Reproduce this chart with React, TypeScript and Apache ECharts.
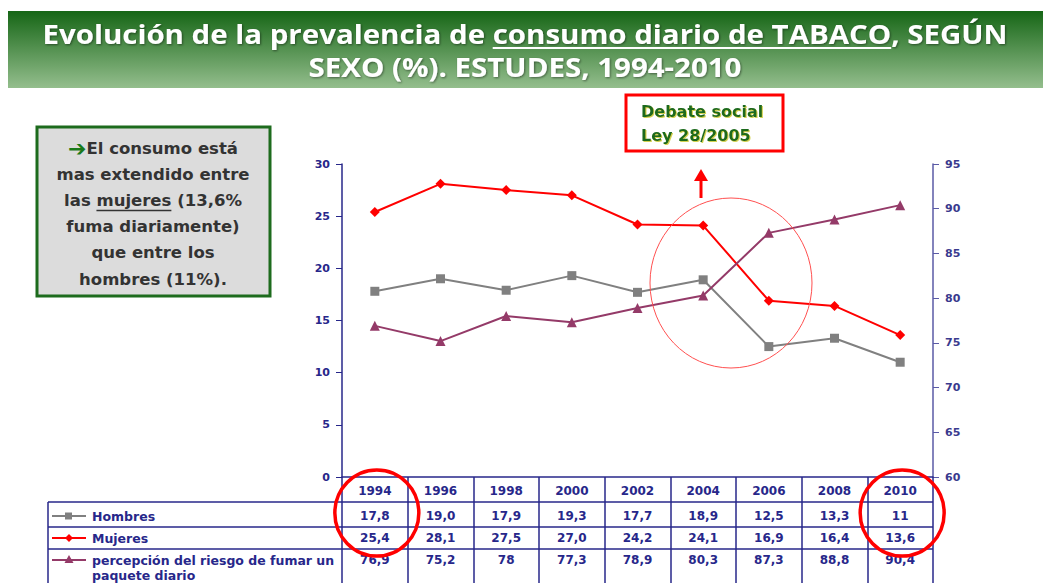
import React, { useEffect, useRef } from 'react';
import * as echarts from 'echarts';

const years = ['1994', '1996', '1998', '2000', '2002', '2004', '2006', '2008', '2010'];
const hombresText = ['17,8', '19,0', '17,9', '19,3', '17,7', '18,9', '12,5', '13,3', '11'];
const mujeresText = ['25,4', '28,1', '27,5', '27,0', '24,2', '24,1', '16,9', '16,4', '13,6'];
const riesgoText = ['76,9', '75,2', '78', '77,3', '78,9', '80,3', '87,3', '88,8', '90,4'];

const toNum = (s: string) => parseFloat(s.replace(',', '.'));
const hombres = hombresText.map(toNum);
const mujeres = mujeresText.map(toNum);
const riesgo = riesgoText.map(toNum);

const titleLine1 = 'Evolución de la prevalencia de consumo diario de TABACO, SEGÚN';
const titleUnderlined = 'consumo diario de TABACO';
const titleLine2 = 'SEXO (%). ESTUDES, 1994-2010';

const NAVY = '#27278a';
const GRAY = '#808080';
const RED = '#ff0000';
const PURPLE = '#943a68';
const TFONT = 'DejaVu Sans';

const W = 1048;
const H = 583;
const GRID = { left: 342, right: W - 933, top: 164, bottom: H - 477 };

let measureCtx: CanvasRenderingContext2D | null = null;
function tw(text: string, font: string) {
  if (!measureCtx) measureCtx = document.createElement('canvas').getContext('2d');
  measureCtx!.font = font;
  return measureCtx!.measureText(text).width;
}

export default function App() {
  const ref = useRef<HTMLDivElement>(null);
  useEffect(() => {
    const chart = echarts.init(ref.current!, null, { renderer: 'svg' });
    const axisLabelBase = { fontFamily: TFONT, fontWeight: 'bold' as const, fontSize: 11, color: NAVY };
    chart.setOption({
      animation: false,
      grid: GRID,
      xAxis: {
        type: 'category',
        data: years,
        boundaryGap: true,
        axisLine: { lineStyle: { color: NAVY, width: 1.5 } },
        axisTick: { show: true, interval: 0, length: 110, lineStyle: { color: NAVY, width: 1.5 } },
        axisLabel: { ...axisLabelBase, fontSize: 12, margin: 8, interval: 0 },
        splitLine: { show: false },
      },
      yAxis: [
        {
          type: 'value', min: 0, max: 30, interval: 5, position: 'left',
          axisLine: { show: true, lineStyle: { color: NAVY, width: 1.5 } },
          axisTick: { show: true, length: 6, lineStyle: { color: NAVY } },
          axisLabel: { ...axisLabelBase, margin: 12 },
          splitLine: { show: false },
        },
        {
          type: 'value', min: 60, max: 95, interval: 5, position: 'right',
          axisLine: { show: true, lineStyle: { color: '#5a5aa6', width: 1.5 } },
          axisTick: { show: true, length: 6, lineStyle: { color: '#5a5aa6' } },
          axisLabel: { ...axisLabelBase, color: '#3a3a8e', margin: 12 },
          splitLine: { show: false },
        },
      ],
      series: [
        {
          name: 'Hombres', type: 'line', data: hombres, yAxisIndex: 0,
          symbol: 'rect', symbolSize: 9, itemStyle: { color: GRAY }, lineStyle: { color: GRAY, width: 2 },
        },
        {
          name: 'Mujeres', type: 'line', data: mujeres, yAxisIndex: 0,
          symbol: 'diamond', symbolSize: 10, itemStyle: { color: RED }, lineStyle: { color: RED, width: 2 },
        },
        {
          name: 'percepción del riesgo de fumar un paquete diario', type: 'line', data: riesgo, yAxisIndex: 1,
          symbol: 'triangle', symbolSize: 10, itemStyle: { color: PURPLE }, lineStyle: { color: PURPLE, width: 2 },
        },
      ],
    });

    const xs = years.map((_, i) => chart.convertToPixel({ xAxisIndex: 0 }, i) as number);
    const g: any[] = [];

    // Title banner
    g.push({
      type: 'rect', shape: { x: 8, y: 11, width: 1035, height: 77 },
      style: {
        fill: {
          type: 'linear', x: 0, y: 0, x2: 0, y2: 1,
          colorStops: [{ offset: 0, color: '#166616' }, { offset: 1, color: '#94be8d' }],
        },
      },
    });
    const tSize = 27;
    const titleFont = `bold ${tSize}px "Open Sans"`;
    const cx = 525;
    const fullW = tw(titleLine1, titleFont);
    const sx = 965 / fullW;
    const textStyleTitle = {
      fill: '#ffffff', fontSize: tSize, fontWeight: 'bold', fontFamily: 'Open Sans', lineHeight: 30,
      textAlign: 'center', textVerticalAlign: 'middle',
      textShadowColor: 'rgba(0,0,0,0.45)', textShadowBlur: 2, textShadowOffsetX: 1, textShadowOffsetY: 1,
    };
    g.push({ type: 'text', x: cx, y: 33, scaleX: sx, style: { ...textStyleTitle, text: titleLine1 } });
    g.push({ type: 'text', x: cx, y: 66, scaleX: sx, style: { ...textStyleTitle, text: titleLine2 } });
    const pre = titleLine1.slice(0, titleLine1.indexOf(titleUnderlined));
    const ux0 = cx + (-fullW / 2 + tw(pre, titleFont)) * sx;
    const ux1 = ux0 + tw(titleUnderlined, titleFont) * sx;
    g.push({ type: 'line', shape: { x1: ux0, y1: 48, x2: ux1, y2: 48 }, style: { stroke: '#ffffff', lineWidth: 2 } });

    // Left text box
    g.push({
      type: 'rect', shape: { x: 37, y: 127, width: 233, height: 169 },
      style: { fill: '#dcdcdc', stroke: '#1d6b1d', lineWidth: 3 },
    });
    const boxFontSize = 16.5;
    const boxFont = `bold ${boxFontSize}px "${TFONT}"`;
    const boxLines = ['El consumo está', 'mas extendido entre', 'las mujeres (13,6%', 'fuma diariamente)', 'que entre los', 'hombres (11%).'];
    const bcx = 153;
    boxLines.forEach((t, i) => {
      const y = 148 + i * 26.2;
      if (i === 0) {
        g.push({
          type: 'text', x: bcx, y,
          style: {
            text: '{a|➔}' + t, textAlign: 'center', textVerticalAlign: 'middle',
            fill: '#333333', fontSize: boxFontSize, fontWeight: 'bold', fontFamily: TFONT,
            rich: { a: { fill: '#1a7a1a', fontSize: 22, fontWeight: 'bold', fontFamily: TFONT } },
          },
        });
      } else {
        g.push({
          type: 'text', x: bcx, y,
          style: { text: t, textAlign: 'center', textVerticalAlign: 'middle', fill: '#333333', fontSize: boxFontSize, fontWeight: 'bold', fontFamily: TFONT },
        });
      }
      if (i === 2) {
        const lw = tw(t, boxFont);
        const s0 = bcx - lw / 2 + tw('las ', boxFont);
        const s1 = s0 + tw('mujeres', boxFont);
        g.push({ type: 'line', shape: { x1: s0, y1: y + 10, x2: s1, y2: y + 10 }, style: { stroke: '#333333', lineWidth: 1.5 } });
      }
    });

    // Debate box
    g.push({
      type: 'rect', shape: { x: 626, y: 95, width: 157, height: 56 },
      style: { fill: '#ffffff', stroke: RED, lineWidth: 3 },
    });
    ['Debate social', 'Ley 28/2005'].forEach((t, i) => {
      g.push({
        type: 'text', x: 641, y: 111 + i * 24,
        style: {
          text: t, textAlign: 'left', textVerticalAlign: 'middle', fill: '#1d6b1d',
          fontSize: 16, fontWeight: 'bold', fontFamily: TFONT,
          textShadowColor: 'rgba(200,200,40,0.8)', textShadowBlur: 1, textShadowOffsetX: 1, textShadowOffsetY: 1,
        },
      });
    });
    // Red arrow
    g.push({ type: 'line', shape: { x1: 701, y1: 198, x2: 701, y2: 178 }, style: { stroke: RED, lineWidth: 3 } });
    g.push({ type: 'polygon', shape: { points: [[694, 181], [708, 181], [701, 169]] }, style: { fill: RED } });

    // Ellipse around crossing
    g.push({
      type: 'ellipse', shape: { cx: 731, cy: 283, rx: 81, ry: 85 },
      style: { fill: 'none', stroke: '#ff5050', lineWidth: 1 }, z: 10,
    });

    // Table
    const lineStyle = { stroke: NAVY, lineWidth: 1.5 };
    [502, 527, 549].forEach((y) => {
      g.push({ type: 'line', shape: { x1: 48, y1: y, x2: 933, y2: y }, style: lineStyle });
    });
    g.push({ type: 'line', shape: { x1: 48, y1: 502, x2: 48, y2: H }, style: lineStyle });

    const rows = [
      { name: 'Hombres', color: GRAY, sym: 'rect', y: 516, vals: hombresText },
      { name: 'Mujeres', color: RED, sym: 'diamond', y: 538, vals: mujeresText },
      { name: 'percepción del riesgo de fumar un\npaquete diario', color: PURPLE, sym: 'triangle', y: 560, vals: riesgoText },
    ];
    rows.forEach((r) => {
      g.push({ type: 'line', shape: { x1: 52, y1: r.y, x2: 86, y2: r.y }, style: { stroke: r.color, lineWidth: 2 } });
      if (r.sym === 'rect') {
        g.push({ type: 'rect', shape: { x: 65, y: r.y - 3.5, width: 7, height: 7 }, style: { fill: r.color } });
      } else if (r.sym === 'diamond') {
        g.push({ type: 'polygon', shape: { points: [[69, r.y - 4], [73, r.y], [69, r.y + 4], [65, r.y]] }, style: { fill: r.color } });
      } else {
        g.push({ type: 'polygon', shape: { points: [[69, r.y - 5], [73.5, r.y + 3], [64.5, r.y + 3]] }, style: { fill: r.color } });
      }
      g.push({
        type: 'text', x: 92, y: r.y - 7.5,
        style: {
          text: r.name, textAlign: 'left', textVerticalAlign: 'top', fill: NAVY,
          fontSize: 12.5, fontWeight: 'bold', fontFamily: TFONT, lineHeight: 15,
        },
      });
      r.vals.forEach((v, i) => {
        g.push({
          type: 'text', x: xs[i], y: r.y,
          style: {
            text: v, textAlign: 'center', textVerticalAlign: 'middle', fill: NAVY,
            fontSize: 12, fontWeight: 'bold', fontFamily: TFONT,
          },
        });
      });
    });

    // Red circles on 1994 and 2010 columns
    [0, years.length - 1].forEach((i) => {
      g.push({
        type: 'ellipse', shape: { cx: xs[i] + 2, cy: 513, rx: 42, ry: 43 },
        style: { fill: 'none', stroke: RED, lineWidth: 3.5 }, z: 10,
      });
    });

    chart.setOption({ graphic: g });
    return () => chart.dispose();
  }, []);
  return <div ref={ref} style={{ position: 'fixed', left: 0, top: 0, width: W, height: H, background: '#ffffff' }} />;
}
